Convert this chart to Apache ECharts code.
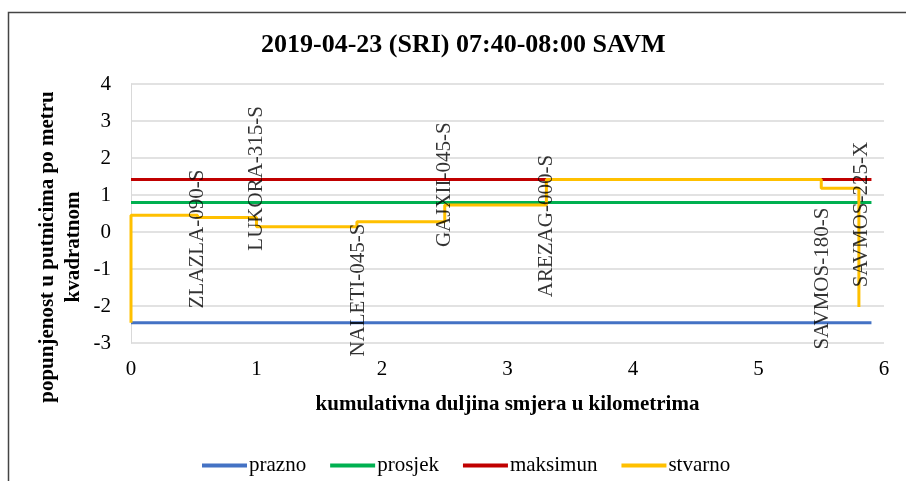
<!DOCTYPE html>
<html>
<head>
<meta charset="utf-8">
<script src="https://cdn.jsdelivr.net/npm/echarts@6/dist/echarts.min.js"></script>
<style>
  html, body { margin: 0; padding: 0; background: #fff; }
  #chart { width: 906px; height: 481px; }
</style>
</head>
<body>
<div id="chart"></div>
<script>
// podaci
const title = '2019-04-23 (SRI) 07:40-08:00 SAVM'
const legendNames = ['prazno', 'prosjek', 'maksimun', 'stvarno']
const routeEnd = 5.9 // km
const prazno = -2.45
const prosjek = 0.8
const maksimun = 1.42
// granice dionica (km) i stvarna popunjenost po dionici
const segKm = [0, 0.53, 1.0, 1.8, 2.5, 3.31, 5.5, 5.8]
const stvarno = [0.45, 0.39, 0.14, 0.28, 0.73, 1.42, 1.18]
const stvarnoEnd = -2.03
// stanice: naziv, km, visina natpisa
const stopNames = ['ZLAZLA-090-S', 'LUKORA-315-S', 'NALETI-045-S', 'GAJXII-045-S', 'AREZAG-000-S', 'SAVMOS-180-S', 'SAVMOS-225-X']
const stopKm = [0.53, 1.0, 1.81, 2.5, 3.31, 5.51, 5.82]
const stopLabelY = [-0.19, 1.45, -1.57, 1.28, 0.16, -1.26, 0.47]

const serif = "'Liberation Serif', 'Times New Roman', serif"
const colors = ['#4472C4', '#00B050', '#C00000', '#FFC000']

const flat = v => [[0, v], [routeEnd, v]]

// stepenasta linija stvarno
const stvarnoPts = [[0, prazno]]
stvarno.forEach((v, i) => stvarnoPts.push([segKm[i + 1], v]))
stvarnoPts.push([segKm[segKm.length - 1], stvarnoEnd])

const chart = echarts.init(document.getElementById('chart'))
const lineSeries = (name, data, color, extra) => Object.assign({
  name: name,
  type: 'line',
  data: data,
  symbol: 'none',
  lineStyle: { color: color, width: 3 },
  itemStyle: { color: color }
}, extra || {})

chart.setOption({
  animation: false,
  title: {
    text: title,
    left: 256,
    top: 27,
    textStyle: { fontFamily: serif, fontSize: 26, fontWeight: 'bold', color: '#000' }
  },
  legend: {
    data: legendNames,
    left: 197,
    top: 450,
    icon: 'rect',
    itemWidth: 45,
    itemHeight: 4,
    itemGap: 24,
    textStyle: { fontFamily: serif, fontSize: 21, color: '#000', padding: [0, 0, 0, -3] }
  },
  grid: { left: 131, right: 22, top: 84, bottom: 138 },
  xAxis: {
    type: 'value',
    min: 0,
    max: 6,
    interval: 1,
    name: 'kumulativna duljina smjera u kilometrima',
    nameLocation: 'middle',
    nameGap: 51,
    nameTextStyle: { fontFamily: serif, fontSize: 21, fontWeight: 'bold', color: '#000' },
    axisLine: { show: false },
    axisTick: { show: false },
    splitLine: { show: false },
    axisLabel: { fontFamily: serif, fontSize: 21, color: '#000', margin: 16 }
  },
  yAxis: {
    type: 'value',
    min: -3,
    max: 4,
    interval: 1,
    axisLine: { show: true, lineStyle: { color: '#d9d9d9', width: 1 } },
    axisTick: { show: false },
    splitLine: { lineStyle: { color: '#d9d9d9', width: 1.5 } },
    axisLabel: { fontFamily: serif, fontSize: 21, color: '#000', margin: 20 }
  },
  graphic: [
    {
      type: 'polyline',
      shape: { points: [[906, 12.5], [8.5, 12.5], [8.5, 481]] },
      style: { stroke: '#444', lineWidth: 1.5, fill: null },
      silent: true
    },
    {
      type: 'text',
      x: 61,
      y: 247,
      rotation: Math.PI / 2,
      style: {
        text: 'popunjenost u putnicima po metru\nkvadratnom',
        font: 'bold 21px ' + serif,
        fill: '#000',
        align: 'center',
        verticalAlign: 'middle',
        lineHeight: 26
      },
      silent: true
    }
  ],
  series: [
    lineSeries('prazno', flat(prazno), colors[0]),
    lineSeries('prosjek', flat(prosjek), colors[1]),
    lineSeries('maksimun', flat(maksimun), colors[2]),
    lineSeries('stvarno', stvarnoPts, colors[3], { step: 'start' }),
    {
      name: 'stanice',
      type: 'scatter',
      silent: true,
      symbolSize: 1,
      itemStyle: { color: 'rgba(0,0,0,0)' },
      z: 5,
      data: stopNames.map((n, i) => ({ name: n, value: [stopKm[i], stopLabelY[i]] })),
      label: {
        show: true,
        position: 'inside',
        rotate: 90,
        formatter: p => p.name,
        fontFamily: serif,
        fontSize: 21,
        color: '#000'
      }
    }
  ]
})
</script>
</body>
</html>
